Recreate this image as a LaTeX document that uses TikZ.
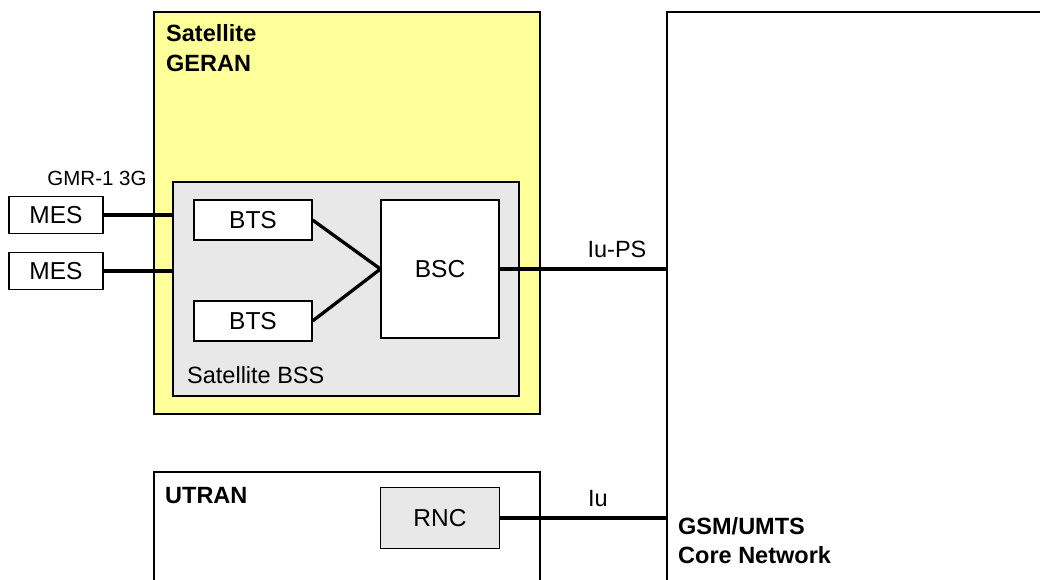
\documentclass[tikz,border=0pt]{standalone}
\usepackage{fontspec}
\setmainfont{Liberation Sans}
\usepackage{tikz,xcolor}

\definecolor{geranyellow}{HTML}{FFFF99}
\definecolor{bssgray}{HTML}{E8E8E8}

\tikzset{
  area/.style={draw, line width=1.1pt, inner sep=0pt},
  unit/.style={draw, line width=1.1pt, fill=white, inner sep=0pt, font=\fontsize{24.5}{28}\selectfont},
  link/.style={-, line width=3.3pt},
  lbl/.style={inner sep=0pt, font=\fontsize{23.5}{28}\selectfont},
  title/.style={inner sep=0pt, align=left, font=\fontsize{23.5}{29.5}\selectfont\bfseries}
}

\begin{document}
\begin{tikzpicture}[x=1pt, y=-1pt]

\useasboundingbox (0,0) rectangle (1040,579);
\clip (0,0) rectangle (1040,579);

% areas
\node[area, fill=geranyellow, minimum width=386pt, minimum height=402pt] (geran) at (347,213) {};
\node[area, fill=bssgray, minimum width=346pt, minimum height=214pt] (bss) at (346,289) {};
\node[area, minimum width=386pt, minimum height=160pt] (utran) at (347,552) {};
\node[area, minimum width=440pt, minimum height=650pt] (core) at (887,337) {};

% titles
\node[title, anchor=north west] (gerantxt) at (166,24.5) {Satellite\\GERAN};
\node[title, anchor=base west] (utrantxt) at (165,503) {UTRAN};
\node[title, anchor=north west] (coretxt) at (678,517) {GSM/UMTS\\Core Network};
\node[lbl, anchor=base west] (bsstxt) at (187,383) {Satellite BSS};

% units
\node[unit, minimum width=94pt, minimum height=37pt] (mes1) at (56,215) {MES};
\node[unit, minimum width=94pt, minimum height=37pt] (mes2) at (56,271) {MES};
\node[unit, minimum width=118pt, minimum height=40pt] (bts1) at (253,220) {BTS};
\node[unit, minimum width=118pt, minimum height=40pt] (bts2) at (253,321) {BTS};
\node[unit, minimum width=118pt, minimum height=138pt] (bsc) at (440,269) {BSC};
\node[unit, fill=bssgray, minimum width=119pt, minimum height=61pt] (rnc) at (440,518) {RNC};

% interface labels
\node[lbl, anchor=base, font=\fontsize{20.5}{24}\selectfont] (gmr) at (97,185) {GMR-1 3G};
\node[lbl, anchor=base] (iups) at (617,257) {Iu-PS};
\node[lbl, anchor=base] (iu) at (598,506) {Iu};

% links
\draw[link] (mes1.east) -- (mes1.east -| bss.west);
\draw[link] (mes2.east) -- (mes2.east -| bss.west);
\draw[link] (bts1.east) -- (bsc.west);
\draw[link] (bts2.east) -- (bsc.west);
\draw[link] (bsc.east) -- (bsc.east -| core.west);
\draw[link] (rnc.east) -- (rnc.east -| core.west);

\end{tikzpicture}
\end{document}
